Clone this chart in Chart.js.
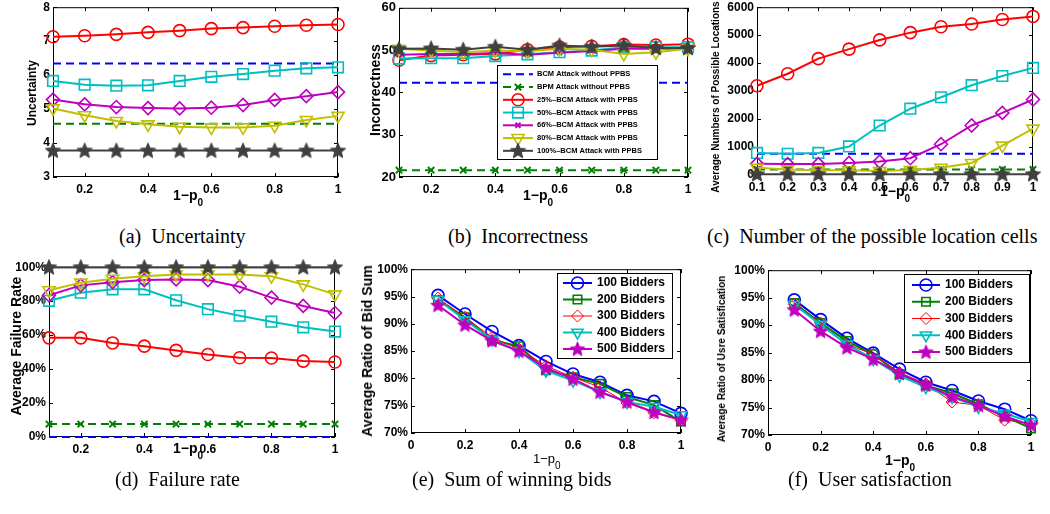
<!DOCTYPE html>
<html>
<head>
<meta charset="utf-8">
<script src="https://cdn.jsdelivr.net/npm/chart.js@4.4.1/dist/chart.umd.min.js"></script>
<style>
  body { margin: 0; width: 1050px; height: 514px; background: #fff; position: relative; overflow: hidden; }
  canvas { position: absolute; }
  .yl { position: absolute; font-family: "Liberation Sans", Arial, sans-serif; font-weight: bold; color: #000;
        white-space: nowrap; line-height: 1; transform: translate(-50%, -50%) rotate(-90deg); }
  .xl { position: absolute; font-family: "Liberation Sans", Arial, sans-serif; font-weight: bold; color: #000;
        white-space: nowrap; font-size: 14px; line-height: 14px; }
  .xl span { font-size: 10px; position: relative; top: 6px; }
  .cap { position: absolute; font-family: "Liberation Serif", "Times New Roman", serif; font-size: 20px;
         line-height: 20px; white-space: pre; color: #000; }
</style>
</head>
<body>

<div class="yl" style="left:32px; top:93px; font-size:12px;">Uncertainty</div>
<div class="yl" style="left:375px; top:90px; font-size:14px;">Incorrectness</div>
<div class="yl" style="left:716px; top:97px; font-size:10px;">Average Numbers of Possible Locations</div>
<div class="yl" style="left:16px; top:346px; font-size:14px;">Average Failure Rate</div>
<div class="yl" style="left:367px; top:351px; font-size:14px;">Average Ratio of Bid Sum</div>
<div class="yl" style="left:722px; top:359px; font-size:10px;">Average Ratio of Usre Satisfication</div>

<div class="xl" style="left:173px; top:188px;">1−p<span>0</span></div>
<div class="xl" style="left:523px; top:188px;">1−p<span>0</span></div>
<div class="xl" style="left:880px; top:184px;">1−p<span>0</span></div>
<div class="xl" style="left:173px; top:441px;">1−p<span>0</span></div>
<div class="xl" style="left:533px; top:452px; font-weight:normal; font-size:13px;">1−p<span>0</span></div>
<div class="xl" style="left:885px; top:453px;">1−p<span>0</span></div>

<div class="cap" style="left:119px; top:226px;">(a)  Uncertainty</div>
<div class="cap" style="left:448px; top:226px;">(b)  Incorrectness</div>
<div class="cap" style="left:707px; top:226px;">(c)  Number of the possible location cells</div>
<div class="cap" style="left:115px; top:469px;">(d)  Failure rate</div>
<div class="cap" style="left:412px; top:469px;">(e)  Sum of winning bids</div>
<div class="cap" style="left:788px; top:469px;">(f)  User satisfaction</div>

<script>
// x positions shared by every panel
const xVals = [0.1, 0.2, 0.3, 0.4, 0.5, 0.6, 0.7, 0.8, 0.9, 1.0];

const attackLabels = [
    'BCM Attack without PPBS',
    'BPM Attack without PPBS',
    '25%\u2013BCM Attack with PPBS',
    '50%\u2013BCM Attack with PPBS',
    '66%\u2013BCM Attack with PPBS',
    '80%\u2013BCM Attack with PPBS',
    '100%\u2013BCM Attack with PPBS'
];
const bidderLabels = ['100 Bidders', '200 Bidders', '300 Bidders', '400 Bidders', '500 Bidders'];

// (a) Uncertainty
const uncBcmPlain = [6.34, 6.34, 6.34, 6.34, 6.34, 6.34, 6.34, 6.34, 6.34, 6.34];
const uncBpmPlain = [4.57, 4.57, 4.57, 4.57, 4.57, 4.57, 4.57, 4.57, 4.57, 4.57];
const unc25 = [7.13, 7.16, 7.20, 7.26, 7.31, 7.37, 7.40, 7.44, 7.47, 7.49];
const unc50 = [5.83, 5.72, 5.69, 5.70, 5.83, 5.95, 6.03, 6.13, 6.20, 6.23];
const unc66 = [5.28, 5.14, 5.06, 5.03, 5.02, 5.04, 5.12, 5.27, 5.38, 5.50];
const unc80 = [5.02, 4.82, 4.65, 4.55, 4.48, 4.46, 4.46, 4.51, 4.68, 4.80];
const unc100 = [3.78, 3.78, 3.78, 3.78, 3.78, 3.78, 3.78, 3.78, 3.78, 3.78];

// (b) Incorrectness
const incBcmPlain = [42.3, 42.3, 42.3, 42.3, 42.3, 42.3, 42.3, 42.3, 42.3, 42.3];
const incBpmPlain = [21.6, 21.6, 21.6, 21.6, 21.6, 21.6, 21.6, 21.6, 21.6, 21.6];
const inc25 = [47.6, 48.7, 48.9, 49.1, 50.1, 50.7, 50.9, 51.3, 51.2, 51.4];
const inc50 = [48.0, 48.1, 48.1, 48.6, 49.0, 49.5, 49.9, 50.7, 50.7, 50.7];
const inc66 = [48.9, 49.1, 49.1, 49.3, 48.9, 49.4, 49.8, 50.3, 50.3, 50.4];
const inc80 = [50.3, 49.9, 49.5, 49.9, 49.7, 50.3, 50.1, 49.1, 49.5, 50.3];
const inc100 = [50.3, 50.4, 50.1, 50.8, 50.1, 51.1, 50.8, 51.1, 50.5, 50.5];

// (c) Number of possible location cells
const locBcmPlain = [760, 760, 760, 760, 760, 760, 760, 760, 760, 760];
const locBpmPlain = [200, 200, 200, 200, 200, 200, 200, 200, 200, 200];
const loc25 = [3190, 3620, 4160, 4500, 4830, 5090, 5300, 5400, 5560, 5670];
const loc50 = [790, 760, 790, 1020, 1770, 2370, 2780, 3210, 3540, 3830];
const loc66 = [400, 390, 390, 430, 480, 600, 1100, 1770, 2220, 2700];
const loc80 = [260, 200, 170, 170, 140, 180, 260, 430, 1050, 1660];
const loc100 = [30, 30, 30, 30, 30, 30, 30, 30, 30, 30];

// (d) Failure rate, percent
const failBcmPlain = [0, 0, 0, 0, 0, 0, 0, 0, 0, 0];
const failBpmPlain = [7.6, 7.6, 7.6, 7.6, 7.6, 7.6, 7.6, 7.6, 7.6, 7.6];
const fail25 = [58.4, 58.4, 55.4, 53.5, 51.0, 48.6, 46.7, 46.5, 44.7, 44.2];
const fail50 = [80.2, 85.0, 87.0, 87.0, 80.5, 75.3, 71.4, 67.9, 64.6, 62.1];
const fail66 = [83.5, 89.3, 91.2, 92.4, 92.8, 92.4, 88.5, 82.1, 77.2, 73.0];
const fail80 = [86.4, 90.9, 93.2, 94.7, 95.7, 95.7, 95.7, 94.7, 89.9, 84.0];
const fail100 = [100, 100, 100, 100, 100, 100, 100, 100, 100, 100];

// (e) Sum of winning bids, percent
const bid100 = [95.2, 91.8, 88.6, 86.0, 83.1, 80.8, 79.3, 76.9, 75.8, 73.6];
const bid200 = [94.3, 91.2, 87.0, 85.9, 81.5, 80.2, 79.0, 76.6, 75.1, 72.1];
const bid300 = [94.7, 91.2, 87.5, 85.4, 82.3, 80.2, 78.4, 75.5, 73.7, 72.3];
const bid400 = [94.4, 90.7, 87.1, 85.0, 81.4, 79.6, 77.5, 75.7, 74.8, 73.3];
const bid500 = [93.4, 89.8, 86.9, 85.0, 81.9, 79.9, 77.5, 75.7, 73.8, 72.4];

// (f) User satisfaction, percent
const sat100 = [94.6, 91.0, 87.6, 84.9, 82.0, 79.6, 78.1, 76.2, 74.7, 72.6];
const sat200 = [94.0, 90.4, 87.1, 84.7, 81.1, 79.0, 77.6, 75.6, 73.4, 71.2];
const sat300 = [93.8, 90.4, 86.5, 84.7, 81.4, 79.3, 76.0, 75.4, 72.7, 72.1];
const sat400 = [93.7, 90.1, 86.5, 83.8, 80.8, 78.7, 76.9, 75.1, 73.9, 72.4];
const sat500 = [92.8, 88.9, 85.9, 83.8, 81.2, 79.1, 77.0, 75.4, 73.4, 71.8];

// tick values
const xTicksCoarse = [0.2, 0.4, 0.6, 0.8, 1];
const xTicksFine = [0.1, 0.2, 0.3, 0.4, 0.5, 0.6, 0.7, 0.8, 0.9, 1];
const xTicksFull = [0, 0.2, 0.4, 0.6, 0.8, 1];
const uncTicks = [3, 4, 5, 6, 7, 8];
const incTicks = [20, 30, 40, 50, 60];
const locTicks = [0, 1000, 2000, 3000, 4000, 5000, 6000];
const failTicks = [0, 20, 40, 60, 80, 100];
const ratioTicks = [70, 75, 80, 85, 90, 95, 100];

const C = {
    blue: '#0000ff', green: '#008000', red: '#ff0000', cyan: '#00bfbf',
    magenta: '#bf00bf', yellow: '#bfbf00', gray: '#404040'
};
const FONT = '"Liberation Sans", Arial, sans-serif';

// filled pentagram marker
function starImage(color, r) {
    const c = document.createElement('canvas');
    const s = Math.ceil(r * 2 + 2);
    c.width = c.height = s;
    const g = c.getContext('2d');
    g.translate(s / 2, s / 2 + 0.5);
    g.beginPath();
    for (let i = 0; i < 10; i++) {
        const rad = i % 2 ? r * 0.45 : r;
        const a = -Math.PI / 2 + i * Math.PI / 5;
        g.lineTo(Math.cos(a) * rad, Math.sin(a) * rad);
    }
    g.closePath();
    g.fillStyle = color;
    g.fill();
    g.lineWidth = 1;
    g.strokeStyle = color;
    g.stroke();
    return c;
}

function series(label, values, color, opt) {
    return Object.assign({
        label: label,
        data: xVals.map((x, i) => ({ x: x, y: values[i] })),
        borderColor: color,
        backgroundColor: color,
        pointBorderColor: color,
        pointBackgroundColor: 'rgba(0,0,0,0)',
        borderWidth: 2,
        pointBorderWidth: 1.6,
        pointRadius: 5.5,
        pointStyle: 'circle',
        tension: 0,
        clip: false
    }, opt);
}

function attackSets(vals, panel) {
    const dash = [8, 5];
    const sets = [
        series(attackLabels[0], vals[0], C.blue, { borderDash: dash, pointRadius: 0 }),
        series(attackLabels[1], vals[1], C.green, panel === 'a'
            ? { borderDash: dash, pointRadius: 0 }
            : { borderDash: dash, pointStyle: 'crossRot', pointRadius: 4.5, pointBorderWidth: 2 }),
        series(attackLabels[2], vals[2], C.red, { pointStyle: 'circle', pointRadius: 6 }),
        series(attackLabels[3], vals[3], C.cyan, { pointStyle: 'rect', pointRadius: 7.5 }),
        series(attackLabels[4], vals[4], C.magenta, panel === 'b'
            ? { pointStyle: 'crossRot', pointRadius: 3.5, pointBorderWidth: 2 }
            : { pointStyle: 'rectRot', pointRadius: 6.5 }),
        series(attackLabels[5], vals[5], C.yellow, { pointStyle: 'triangle', pointRotation: 180, pointRadius: 7 }),
        series(attackLabels[6], vals[6], C.gray, { pointStyle: starImage(C.gray, 8), pointRadius: 7 })
    ];
    sets.forEach((d, i) => { d.order = 10 - i; });
    return sets;
}

function bidderSets(vals) {
    const sets = [
        series(bidderLabels[0], vals[0], C.blue, { pointStyle: 'circle', pointRadius: 6 }),
        series(bidderLabels[1], vals[1], C.green, { pointStyle: 'rect', pointRadius: 6 }),
        series(bidderLabels[2], vals[2], C.red, { pointStyle: 'rectRot', pointRadius: 6, borderWidth: 1, pointBorderWidth: 1 }),
        series(bidderLabels[3], vals[3], C.cyan, { pointStyle: 'triangle', pointRotation: 180, pointRadius: 6.5 }),
        series(bidderLabels[4], vals[4], C.magenta, { pointStyle: starImage(C.magenta, 7.5), pointRadius: 6 })
    ];
    sets.forEach((d, i) => { d.order = 10 - i; });
    return sets;
}

// black box round the plot area with inward tick marks
const axesBox = {
    id: 'axesBox',
    beforeDatasetsDraw(chart) {
        const { ctx, chartArea: a, scales: { x, y } } = chart;
        ctx.save();
        ctx.strokeStyle = '#000';
        ctx.lineWidth = 1;
        ctx.strokeRect(a.left + 0.5, a.top + 0.5, a.right - a.left - 1, a.bottom - a.top - 1);
        ctx.beginPath();
        x.ticks.forEach(t => {
            const px = Math.round(x.getPixelForValue(t.value)) + 0.5;
            ctx.moveTo(px, a.bottom); ctx.lineTo(px, a.bottom - 4);
            ctx.moveTo(px, a.top); ctx.lineTo(px, a.top + 4);
        });
        y.ticks.forEach(t => {
            const py = Math.round(y.getPixelForValue(t.value)) + 0.5;
            ctx.moveTo(a.left, py); ctx.lineTo(a.left + 4, py);
            ctx.moveTo(a.right, py); ctx.lineTo(a.right - 4, py);
        });
        ctx.stroke();
        ctx.restore();
    }
};

// legend box drawn inside the plot, positions in page pixels
function boxLegend(cfg, ox, oy) {
    return {
        id: 'boxLegend',
        afterDraw(chart) {
            const ctx = chart.ctx;
            const [bx0, by0, bx1, by1] = cfg.box;
            ctx.save();
            ctx.fillStyle = '#fff';
            ctx.fillRect(bx0 - ox, by0 - oy, bx1 - bx0, by1 - by0);
            ctx.strokeStyle = '#000';
            ctx.lineWidth = 1;
            ctx.strokeRect(bx0 - ox + 0.5, by0 - oy + 0.5, bx1 - bx0, by1 - by0);
            chart.data.datasets.forEach((ds, i) => {
                const yy = cfg.row0 + i * cfg.rowH - oy;
                ctx.strokeStyle = ds.borderColor;
                ctx.lineWidth = ds.borderWidth;
                ctx.setLineDash(ds.borderDash || []);
                ctx.beginPath();
                ctx.moveTo(cfg.line[0] - ox, yy);
                ctx.lineTo(cfg.line[1] - ox, yy);
                ctx.stroke();
                ctx.setLineDash([]);
                if (ds.pointRadius > 0 && Chart.helpers && Chart.helpers.drawPoint) {
                    ctx.fillStyle = ds.pointBackgroundColor;
                    ctx.strokeStyle = ds.pointBorderColor;
                    ctx.lineWidth = ds.pointBorderWidth;
                    Chart.helpers.drawPoint(ctx, {
                        pointStyle: ds.pointStyle,
                        rotation: ds.pointRotation || 0,
                        radius: ds.pointRadius,
                        borderWidth: ds.pointBorderWidth
                    }, (cfg.line[0] + cfg.line[1]) / 2 - ox, yy);
                }
                ctx.fillStyle = '#000';
                ctx.font = cfg.font;
                ctx.textBaseline = 'middle';
                ctx.textAlign = 'left';
                ctx.fillText(ds.label, cfg.textX - ox, yy);
            });
            ctx.restore();
        }
    };
}

const fmtX = v => String(+v.toFixed(1));
const fmtPlain = v => String(v);
const fmtPct = v => v + '%';

function makePanel(area, datasets, xr, xTicks, yr, yTicks, yFmt, legend, ySize) {
    const [L, T, R, B] = area;
    const padL = 60, padT = 8, padR = 12, padB = 26;
    const cv = document.createElement('canvas');
    cv.width = R - L + padL + padR;
    cv.height = B - T + padT + padB;
    const ox = L - padL, oy = T - padT;
    cv.style.left = ox + 'px';
    cv.style.top = oy + 'px';
    document.body.insertBefore(cv, document.body.firstChild);

    const tickFont = { family: FONT, weight: 'bold', size: 12 };
    const yFont = { family: FONT, weight: 'bold', size: ySize || 12 };
    const plugins = [axesBox];
    if (legend) plugins.push(boxLegend(legend, ox, oy));

    new Chart(cv, {
        type: 'line',
        data: { datasets: datasets },
        options: {
            responsive: false,
            animation: false,
            events: [],
            layout: { padding: { top: padT, right: padR, left: 0, bottom: 0 } },
            plugins: { legend: { display: false }, tooltip: { enabled: false } },
            scales: {
                x: {
                    type: 'linear', min: xr[0], max: xr[1],
                    grid: { display: false, drawTicks: false },
                    border: { display: false },
                    afterFit: s => { s.height = padB; },
                    afterBuildTicks: s => { s.ticks = xTicks.map(v => ({ value: v })); },
                    ticks: { autoSkip: false, maxRotation: 0, padding: 5, color: '#000', font: tickFont, callback: fmtX }
                },
                y: {
                    type: 'linear', min: yr[0], max: yr[1],
                    grid: { display: false, drawTicks: false },
                    border: { display: false },
                    afterFit: s => { s.width = padL; },
                    afterBuildTicks: s => { s.ticks = yTicks.map(v => ({ value: v })); },
                    ticks: { autoSkip: false, padding: 3, color: '#000', font: yFont, callback: yFmt }
                }
            }
        },
        plugins: plugins
    });
}

makePanel([53, 5, 338, 177],
    attackSets([uncBcmPlain, uncBpmPlain, unc25, unc50, unc66, unc80, unc100], 'a'),
    [0.1, 1], xTicksCoarse, [3, 8], uncTicks, fmtPlain, null);

makePanel([399, 5, 688, 177],
    attackSets([incBcmPlain, incBpmPlain, inc25, inc50, inc66, inc80, inc100], 'b'),
    [0.1, 1], xTicksCoarse, [20, 60], incTicks, fmtPlain,
    { box: [497, 65, 657, 159], row0: 74.3, rowH: 12.75, line: [503, 533], textX: 537,
      font: 'bold 7.5px ' + FONT }, 13);

makePanel([757, 5, 1033, 175],
    attackSets([locBcmPlain, locBpmPlain, loc25, loc50, loc66, loc80, loc100], 'c'),
    [0.1, 1], xTicksFine, [0, 6000], locTicks, fmtPlain, null);

makePanel([49, 265, 335, 437],
    attackSets([failBcmPlain, failBpmPlain, fail25, fail50, fail66, fail80, fail100], 'd'),
    [0.1, 1], xTicksCoarse, [0, 100], failTicks, fmtPct, null);

makePanel([411, 267, 681, 433],
    bidderSets([bid100, bid200, bid300, bid400, bid500]),
    [0, 1], xTicksFull, [70, 100], ratioTicks, fmtPct,
    { box: [557, 273, 672, 358], row0: 283, rowH: 16.5, line: [563, 592], textX: 597,
      font: 'bold 12px ' + FONT });

makePanel([768, 268, 1031, 435],
    bidderSets([sat100, sat200, sat300, sat400, sat500]),
    [0, 1], xTicksFull, [70, 100], ratioTicks, fmtPct,
    { box: [904, 274, 1029, 362], row0: 285, rowH: 16.75, line: [912, 940], textX: 945,
      font: 'bold 12px ' + FONT });
</script>
</body>
</html>
